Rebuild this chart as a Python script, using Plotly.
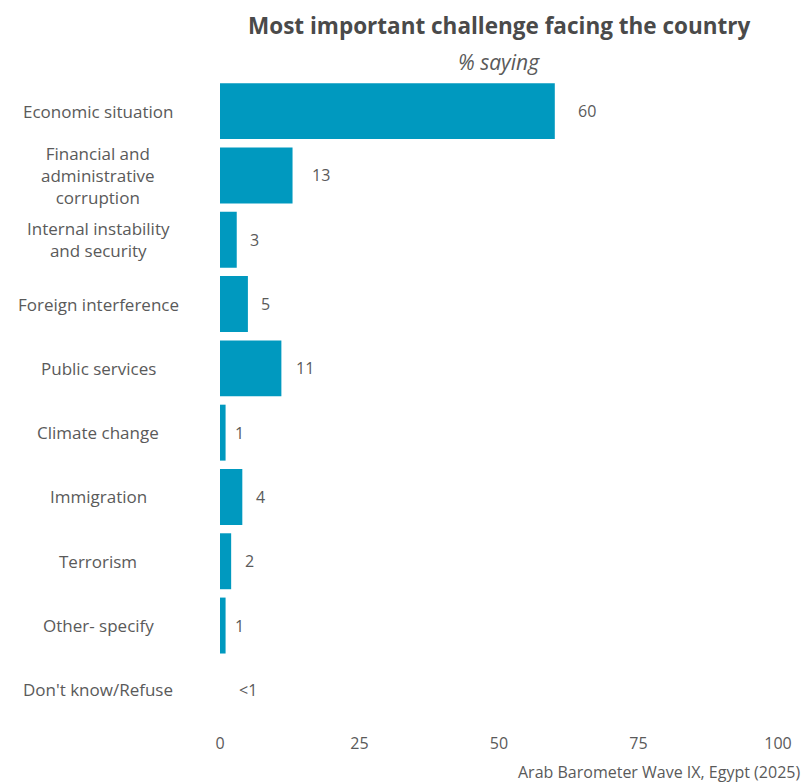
import plotly.graph_objects as go

# Survey responses: most important challenge facing the country (% saying)
categories = [
    "Economic situation",
    "Financial and<br>administrative<br>corruption",
    "Internal instability<br>and security",
    "Foreign interference",
    "Public services",
    "Climate change",
    "Immigration",
    "Terrorism",
    "Other- specify",
    "Don't know/Refuse",
]
values = [60, 13, 3, 5, 11, 1, 4, 2, 1, 0]
x_ticks = [0, 25, 50, 75, 100]

BAR_COLOR = "#0099BF"
TEXT_COLOR = "#5a5a5a"
FONT = "Open Sans"

W, H = 806, 782
L, R, T, B = 220, 28, 79, 60
plot_w = W - L - R
plot_h = H - T - B


def px_x(p):
    return (p - L) / plot_w


def px_y(p):
    return (H - B - p) / plot_h


def value_label(v):
    return "<1" if v < 1 else f"{v:g}"


# rough glyph widths, used to push each label one text-width past its bar end
CHAR_W = {"1": 5.5, "<": 9.0}


def text_width(s):
    return sum(CHAR_W.get(c, 9.5) for c in s)


fig = go.Figure(
    go.Bar(
        x=values,
        y=categories,
        orientation="h",
        marker=dict(color=BAR_COLOR, line=dict(width=0)),
        hoverinfo="skip",
    )
)

annotations = []
for cat, v in zip(categories, values):
    lab = value_label(v)
    annotations.append(dict(
        x=v, y=cat, xref="x", yref="y", text=lab, showarrow=False,
        xanchor="left", yanchor="middle", xshift=text_width(lab) + 2,
        font=dict(family=FONT, size=16, color=TEXT_COLOR),
    ))
    # centred category labels to the left of the bars
    annotations.append(dict(
        x=px_x(98), y=cat, xref="paper", yref="y", text=cat,
        showarrow=False, xanchor="center", yanchor="middle", align="center",
        font=dict(family=FONT, size=17, color=TEXT_COLOR),
    ))

annotations += [
    dict(x=0.5, y=px_y(26), xref="paper", yref="paper",
         text="<b>Most important challenge facing the country</b>",
         showarrow=False, xanchor="center", yanchor="middle",
         font=dict(family=FONT, size=22.5, color="#4a4a4a")),
    dict(x=0.5, y=px_y(62), xref="paper", yref="paper",
         text="<i>% saying</i>", showarrow=False,
         xanchor="center", yanchor="middle",
         font=dict(family=FONT, size=21, color=TEXT_COLOR)),
    dict(x=px_x(802), y=px_y(772), xref="paper", yref="paper",
         text="Arab Barometer Wave IX, Egypt (2025)", showarrow=False,
         xanchor="right", yanchor="middle",
         font=dict(family=FONT, size=16, color=TEXT_COLOR)),
]

fig.update_layout(
    width=W, height=H,
    margin=dict(l=L, r=R, t=T, b=B, pad=0),
    paper_bgcolor="white", plot_bgcolor="white",
    bargap=0.13,
    showlegend=False,
    annotations=annotations,
    font=dict(family=FONT, size=16, color=TEXT_COLOR),
)
fig.update_xaxes(
    range=[0, 100], tickvals=x_ticks, ticktext=[str(t) for t in x_ticks],
    showgrid=False, zeroline=False, showline=False, ticks="",
    ticklabelstandoff=10,
    tickfont=dict(family=FONT, size=16, color=TEXT_COLOR),
)
fig.update_yaxes(
    autorange="reversed", showticklabels=False, showgrid=False,
    zeroline=False, showline=False, ticks="",
)

fig.write_html("out.html")
